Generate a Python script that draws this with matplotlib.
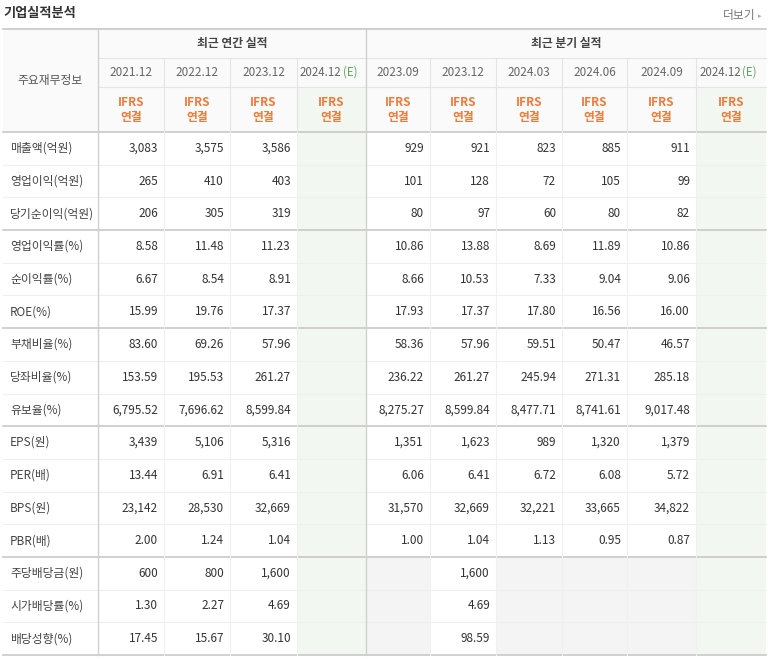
import matplotlib
matplotlib.use("Agg")
import matplotlib.pyplot as plt
from matplotlib.patches import Rectangle

plt.rcParams["font.family"] = "Noto Sans CJK KR"

periods = ["2021.12", "2022.12", "2023.12", "2024.12", "2023.09", "2023.12",
           "2024.03", "2024.06", "2024.09", "2024.12"]
estimate = [False, False, False, True, False, False, False, False, False, True]
row_labels = ["매출액(억원)", "영업이익(억원)", "당기순이익(억원)", "영업이익률(%)",
              "순이익률(%)", "ROE(%)", "부채비율(%)", "당좌비율(%)", "유보율(%)",
              "EPS(원)", "PER(배)", "BPS(원)", "PBR(배)", "주당배당금(원)",
              "시가배당률(%)", "배당성향(%)"]
values = [
    ["3,083", "3,575", "3,586", "", "929", "921", "823", "885", "911", ""],
    ["265", "410", "403", "", "101", "128", "72", "105", "99", ""],
    ["206", "305", "319", "", "80", "97", "60", "80", "82", ""],
    ["8.58", "11.48", "11.23", "", "10.86", "13.88", "8.69", "11.89", "10.86", ""],
    ["6.67", "8.54", "8.91", "", "8.66", "10.53", "7.33", "9.04", "9.06", ""],
    ["15.99", "19.76", "17.37", "", "17.93", "17.37", "17.80", "16.56", "16.00", ""],
    ["83.60", "69.26", "57.96", "", "58.36", "57.96", "59.51", "50.47", "46.57", ""],
    ["153.59", "195.53", "261.27", "", "236.22", "261.27", "245.94", "271.31", "285.18", ""],
    ["6,795.52", "7,696.62", "8,599.84", "", "8,275.27", "8,599.84", "8,477.71", "8,741.61", "9,017.48", ""],
    ["3,439", "5,106", "5,316", "", "1,351", "1,623", "989", "1,320", "1,379", ""],
    ["13.44", "6.91", "6.41", "", "6.06", "6.41", "6.72", "6.08", "5.72", ""],
    ["23,142", "28,530", "32,669", "", "31,570", "32,669", "32,221", "33,665", "34,822", ""],
    ["2.00", "1.24", "1.04", "", "1.00", "1.04", "1.13", "0.95", "0.87", ""],
    ["600", "800", "1,600", "", "", "1,600", "", "", "", ""],
    ["1.30", "2.27", "4.69", "", "", "4.69", "", "", "", ""],
    ["17.45", "15.67", "30.10", "", "", "98.59", "", "", "", ""],
]
# quarterly cells with no dividend data are shaded grey
no_div = [4, 6, 7, 8]

W, H = 773, 659
fig = plt.figure(figsize=(W / 100, H / 100), dpi=100)
ax = fig.add_axes([0, 0, 1, 1])
ax.set_xlim(0, W)
ax.set_ylim(H, 0)
ax.axis("off")

xs = [3, 98, 164, 230, 297, 366, 430, 496, 562, 627, 696, 766]
top, y_grp, y_date, y_ifrs = 29, 58, 87, 132
rh = (655 - y_ifrs) / len(row_labels)
bottom = y_ifrs + rh * len(row_labels)
line = "#e4e4e4"
green = "#f2f8f1"

def rect(x0, y0, x1, y1, c):
    ax.add_patch(Rectangle((x0, y0), x1 - x0, y1 - y0, color=c, lw=0, zorder=0))

rect(xs[0], top, xs[-1], y_ifrs, "#fafafa")
for j, e in enumerate(estimate):
    if e:
        rect(xs[j + 1], y_date, xs[j + 2], bottom, green)
for i in range(13, 16):
    for j in no_div:
        rect(xs[j + 1], y_ifrs + rh * i, xs[j + 2], y_ifrs + rh * (i + 1), "#f4f4f4")

ax.text(3, 13, "기업실적분석", fontsize=9.5, fontweight="bold", color="#333", va="center")
ax.text(756, 16, "더보기", fontsize=8.5, color="#777", va="center", ha="right")
ax.text(758, 16, "▸", fontsize=5, color="#aaa", va="center", ha="left",
        family="DejaVu Sans")

# horizontal lines
ax.plot([xs[0], xs[-1]], [top, top], color="#c8c8c8", lw=1.2)
ax.plot([xs[1], xs[-1]], [y_grp, y_grp], color=line, lw=0.8)
ax.plot([xs[1], xs[-1]], [y_date, y_date], color=line, lw=0.8)
ax.plot([xs[0], xs[-1]], [y_ifrs, y_ifrs], color="#c8c8c8", lw=1.2)
for i in range(1, len(row_labels) + 1):
    y = y_ifrs + rh * i
    strong = i in (3, 6, 9, 13, 16)
    ax.plot([xs[0], xs[-1]], [y, y], color="#c8c8c8" if strong else "#efefef",
            lw=1.2 if strong else 0.8)
# vertical lines
for k, x in enumerate(xs[1:-1], start=1):
    if k in (1, 5):
        ax.plot([x, x], [top, bottom], color="#d0d0d0", lw=1)
    else:
        ax.plot([x, x], [y_grp, y_ifrs], color=line, lw=0.8)
        ax.plot([x, x], [y_ifrs, bottom], color="#f0f0f0", lw=0.8)

ax.text((xs[0] + xs[1]) / 2, (top + y_ifrs) / 2, "주요재무정보", fontsize=8.5,
        color="#555", ha="center", va="center")
ax.text((xs[1] + xs[5]) / 2, (top + y_grp) / 2, "최근 연간 실적", fontsize=8.5,
        fontweight="bold", color="#444", ha="center", va="center")
ax.text((xs[5] + xs[11]) / 2, (top + y_grp) / 2, "최근 분기 실적", fontsize=8.5,
        fontweight="bold", color="#444", ha="center", va="center")

for j, p in enumerate(periods):
    cx = (xs[j + 1] + xs[j + 2]) / 2
    cy = (y_date + y_grp) / 2
    if estimate[j]:
        ax.text(cx + 10, cy, p, fontsize=8.3, color="#666", ha="right", va="center")
        ax.text(cx + 11, cy, "(E)", fontsize=8.3, color="#5aaa5a", ha="left", va="center")
    else:
        ax.text(cx, cy, p, fontsize=8.5, color="#666", ha="center", va="center")
    ax.text(cx, y_date + 15, "IFRS", fontsize=8.5, fontweight="bold", color="#f07a3a",
            ha="center", va="center")
    ax.text(cx, y_date + 31, "연결", fontsize=8.5, fontweight="bold", color="#f07a3a",
            ha="center", va="center")

for i, lab in enumerate(row_labels):
    cy = y_ifrs + rh * (i + 0.5)
    ax.text(10, cy, lab, fontsize=8.5, color="#444", va="center")
    for j, v in enumerate(values[i]):
        ax.text(xs[j + 2] - 6, cy, v, fontsize=8.5, color="#333", ha="right", va="center")

fig.savefig("out.png", dpi=100, facecolor="white")
